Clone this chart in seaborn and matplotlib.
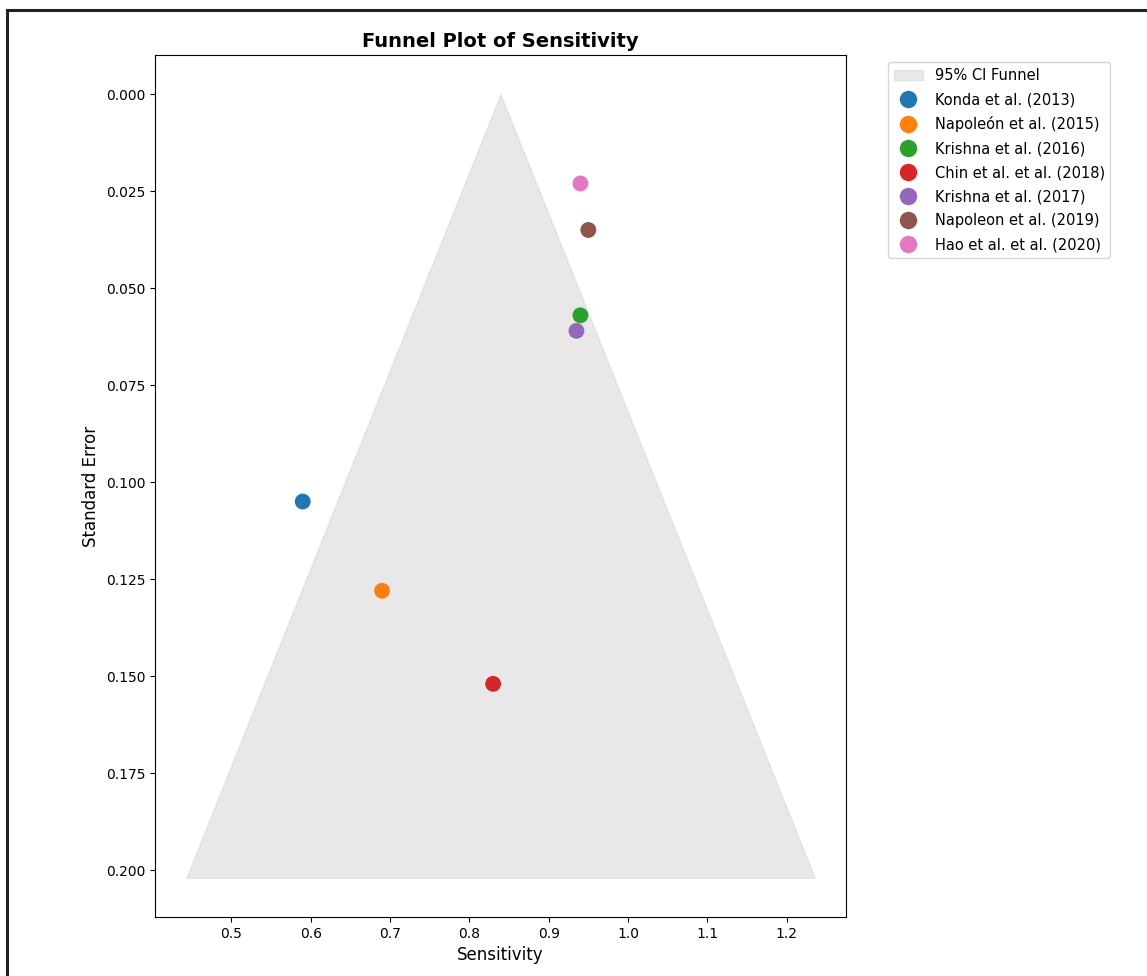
import numpy as np
import pandas as pd
import matplotlib
matplotlib.use("Agg")
import matplotlib.pyplot as plt
import seaborn as sns
from matplotlib.lines import Line2D

# study data
studies = ["Konda et al. (2013)", "Napoleón et al. (2015)", "Krishna et al. (2016)",
           "Chin et al. et al. (2018)", "Krishna et al. (2017)", "Napoleon et al. (2019)",
           "Hao et al. et al. (2020)"]
sensitivity = [0.59, 0.69, 0.94, 0.83, 0.935, 0.95, 0.94]
std_error = [0.105, 0.128, 0.057, 0.152, 0.061, 0.035, 0.023]

df = pd.DataFrame({"study": studies, "sens": sensitivity, "se": std_error})

#funnel around the mean sensitivity
mean_sens = np.mean(sensitivity)
se_range = np.linspace(0, max(std_error) + 0.05, 100)
lower = mean_sens - 1.96 * se_range
upper = mean_sens + 1.96 * se_range

fig = plt.figure(figsize=(11.47, 9.76), dpi=100)
ax = fig.add_axes([0.1351, 0.0605, 0.6025, 0.8831])

ax.fill_betweenx(se_range, lower, upper, color="lightgray", alpha=0.5, label="95% CI Funnel")
sns.scatterplot(data=df, x="sens", y="se", hue="study", s=130, palette="tab10",
                edgecolor="none", ax=ax, zorder=3)
ax.invert_yaxis()

ax.set_title("Funnel Plot of Sensitivity", fontsize=14, fontweight="bold")
ax.set_xlabel("Sensitivity", fontsize=12)
ax.set_ylabel("Standard Error", fontsize=12)
ax.tick_params(labelsize=10)
ax.legend(bbox_to_anchor=(1.05, 1), loc="upper left", fontsize=10.5, labelspacing=0.62,
          markerscale=1.1)

# frame lines at the picture edge
fig.add_artist(Line2D([7 / 1147, 7 / 1147], [0, 1 - 10 / 976], color="#222222", lw=2.2, transform=fig.transFigure))
fig.add_artist(Line2D([7 / 1147, 1], [1 - 10 / 976, 1 - 10 / 976], color="#222222", lw=2.2, transform=fig.transFigure))

fig.savefig("out.png", dpi=100)
